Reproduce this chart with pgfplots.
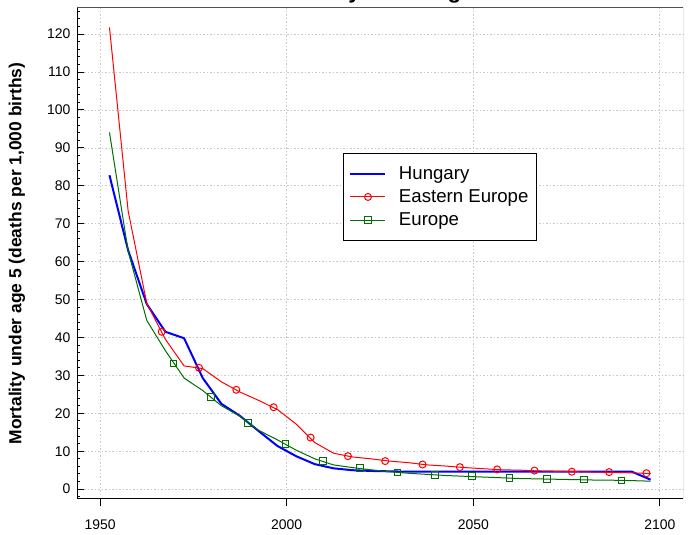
\documentclass[border=0pt]{standalone}
\usepackage{fontspec}
\setmainfont{Liberation Sans}
\usepackage{pgfplots}
\usepackage{pgfplotstable}
\pgfplotsset{compat=1.18}
\definecolor{hblue}{RGB}{0,0,255}
\definecolor{ered}{RGB}{255,0,0}
\definecolor{egreen}{RGB}{0,110,0}
\definecolor{gridgray}{RGB}{200,200,200}
\definecolor{boxgray}{RGB}{80,80,80}

\pgfplotstableread{
year  hun   eee   eur
1952.5 82.8 121.8 94.1
1957.5 63.0 73.4 62.8
1962.5 48.8 49.0 44.5
1967.5 41.5 39.5 36.5
1972.5 39.8 32.5 29.3
1977.5 29.3 31.8 26.0
1982.5 22.5 28.3 22.0
1987.5 19.3 25.6 19.2
1992.5 15.3 23.4 15.5
1997.5 11.4 21.0 13.0
2002.5 8.7 17.2 10.3
2007.5 6.6 12.3 8.0
2012.5 5.5 9.5 6.4
2017.5 5.0 8.5 5.7
2022.5 4.8 8.0 5.1
2027.5 4.7 7.4 4.6
2032.5 4.6 7.0 4.2
2037.5 4.6 6.4 3.9
2042.5 4.6 6.1 3.6
2047.5 4.6 5.7 3.4
2052.5 4.6 5.4 3.2
2057.5 4.6 5.1 3.0
2062.5 4.6 5.0 2.8
2067.5 4.6 4.8 2.7
2072.5 4.6 4.7 2.6
2077.5 4.6 4.6 2.5
2082.5 4.6 4.5 2.4
2087.5 4.6 4.4 2.35
2092.5 4.6 4.3 2.25
2097.5 2.5 4.1 2.1
}\mortdata

\pgfplotstableread{
year val
1966.5 41.5
1976.5 32.0
1986.5 26.2
1996.5 21.6
2006.4 13.6
2016.4 8.7
2026.4 7.4
2036.4 6.5
2046.4 5.8
2056.4 5.2
2066.4 4.9
2076.4 4.6
2086.4 4.5
2096.4 4.2
}\eemarks

\pgfplotstableread{
year val
1969.7 33.1
1979.7 24.3
1989.7 17.5
1999.7 11.9
2009.7 7.5
2019.7 5.5
2029.7 4.4
2039.7 3.8
2049.7 3.4
2059.7 3.0
2069.7 2.7
2079.7 2.5
2089.7 2.3
}\eumarks

\begin{document}
\begin{tikzpicture}
\begin{axis}[
  at={(77bp,36bp)}, anchor=south west,
  scale only axis, width=606bp, height=491bp,
  xmin=1943.8, xmax=2106.2, ymin=-2.6, ymax=126.9,
  axis line style={draw=none},
  tick pos=left,
  xtick align=outside, ytick align=inside,
  major tick length=7bp, minor tick length=3.5bp,
  tick style={black, line width=1bp},
  xtick={1950,2000,2050,2100},
  ytick={0,10,...,120},
  minor ytick={-2,2,4,...,126},
  /pgf/number format/assume math mode=true,
  /pgf/number format/1000 sep={},
  tick label style={font=\fontsize{14}{16}\selectfont},
  yticklabel style={xshift=-3bp},
  xticklabel style={yshift=-10bp},
  grid=major,
  major grid style={gridgray, dash pattern=on 1.5bp off 2bp, line width=0.8bp},
  ylabel={Mortality under age 5 (deaths per 1,000 births)},
  ylabel style={font=\bfseries\fontsize{17.5}{19}\selectfont, at={(axis description cs:-0.099,0.5)}, anchor=center},
  legend cell align=left,
  legend image code/.code={\draw[mark repeat=2,mark phase=2,#1] plot coordinates {(0bp,0bp) (17.5bp,0bp) (35bp,0bp)};},
  legend style={at={(0.4389,0.7047)}, anchor=north west, draw=black, line width=1bp,
    inner xsep=6bp, inner ysep=11bp, row sep=5bp,
    /tikz/every odd column/.append style={column sep=10.5bp},
    font=\fontsize{18.7}{21}\selectfont},
]
\addplot[hblue, line width=2bp, no marks, forget plot] table[x=year,y=hun] {\mortdata};
\addplot[ered, line width=1bp, no marks, forget plot] table[x=year,y=eee] {\mortdata};
\addplot[egreen, line width=1bp, no marks, forget plot] table[x=year,y=eur] {\mortdata};
\addplot[ered, only marks, mark=o, mark size=3.5bp, line width=1bp, forget plot] table[x=year,y=val] {\eemarks};
\addplot[egreen, only marks, mark=square, mark size=3.3bp, line width=1bp, forget plot] table[x=year,y=val] {\eumarks};
\addlegendimage{hblue, line width=2bp}
\addlegendentry{Hungary}
\addlegendimage{ered, line width=1bp, mark=o, mark size=3.5bp}
\addlegendentry{Eastern Europe}
\addlegendimage{egreen, line width=1bp, mark=square, mark size=3.3bp}
\addlegendentry{Europe}
\draw[boxgray, line width=1bp] (rel axis cs:0,1) -- (rel axis cs:1,1) -- (rel axis cs:1,0);
\draw[black, line width=2.2bp] (rel axis cs:0,1) -- (rel axis cs:0,0) -- (rel axis cs:1,0);
\end{axis}
\node[font=\bfseries\fontsize{22.4}{24}\selectfont, anchor=base] at (380bp,536.7bp) {Mortality under age 5};
\pgfresetboundingbox
\path[use as bounding box] (0,0) rectangle (695bp,535bp);
\end{tikzpicture}
\end{document}
